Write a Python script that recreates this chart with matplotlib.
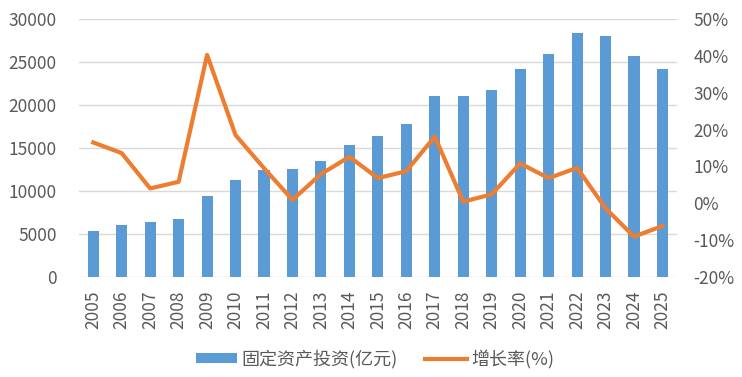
import matplotlib.pyplot as plt
from matplotlib.ticker import FuncFormatter

plt.rcParams['font.family'] = ['Noto Sans CJK SC', 'DejaVu Sans']

# 数据
years = [str(y) for y in range(2005, 2026)]
invest = [5300, 6000, 6350, 6750, 9450, 11300, 12400, 12550, 13500, 15300, 16400,
          17850, 21100, 21100, 21700, 24250, 25900, 28450, 28100, 25700, 24250]
growth = [16.5, 13.6, 4.0, 5.8, 40.3, 18.5, 9.5, 0.9, 7.9, 12.6, 6.8,
          8.7, 18.1, 0.4, 2.4, 10.8, 6.8, 9.6, -1.4, -9.1, -6.2]

bar_color = '#5B9BD5'
line_color = '#ED7D31'
txt_color = '#595959'

fig = plt.figure(figsize=(7.42, 3.77), dpi=100)
ax = fig.add_axes([0.1065, 0.266, 0.8055, 0.683])
x = range(len(years))
ax.bar(x, invest, width=0.39, color=bar_color, zorder=2, label='固定资产投资(亿元)')
ax.set_xlim(-0.5, len(years) - 0.5)
ax.set_ylim(0, 30000)
ax.set_yticks(range(0, 30001, 5000))
ax.grid(axis='y', color='#D9D9D9', linewidth=1, zorder=0)
ax.set_xticks(list(x))
ax.set_xticklabels(years, rotation=90)
for s in ax.spines.values():
    s.set_visible(False)
ax.tick_params(length=0, labelsize=12.5, colors=txt_color)
ax.tick_params(axis='y', pad=16)
ax.tick_params(axis='x', pad=10)

ax2 = ax.twinx()
ax2.plot(x, growth, color=line_color, linewidth=3, solid_joinstyle='round', label='增长率(%)', zorder=3)
ax2.set_ylim(-20, 50)
ax2.set_yticks(range(-20, 51, 10))
ax2.yaxis.set_major_formatter(FuncFormatter(lambda v, p: f'{v:.0f}%'))
for s in ax2.spines.values():
    s.set_visible(False)
ax2.tick_params(length=0, labelsize=12.5, colors=txt_color, pad=12)

h1, l1 = ax.get_legend_handles_labels()
h2, l2 = ax2.get_legend_handles_labels()
fig.legend(h1 + h2, l1 + l2, loc='center', bbox_to_anchor=(375 / 742, 1 - 359 / 377), ncol=2, frameon=False,
           fontsize=13, labelcolor=txt_color, handlelength=2.3, handleheight=0.5,
           handletextpad=0.25, columnspacing=1.5, borderpad=0)

fig.savefig('out.png', dpi=100)
